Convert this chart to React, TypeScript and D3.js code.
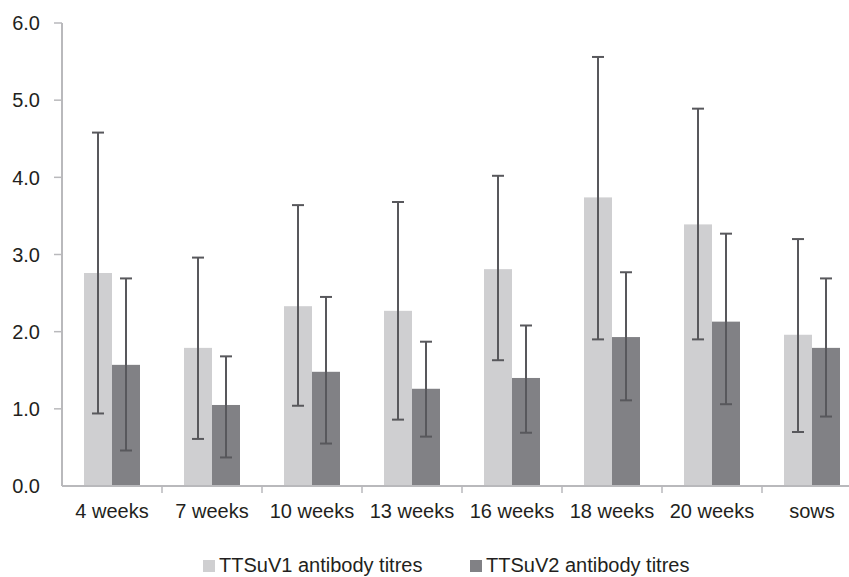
import React from "react";
import * as d3 from "d3";

const categories = ["4 weeks", "7 weeks", "10 weeks", "13 weeks", "16 weeks", "18 weeks", "20 weeks", "sows"];
const v1Mean = [2.76, 1.79, 2.33, 2.27, 2.81, 3.74, 3.39, 1.96];
const v1Low = [0.94, 0.61, 1.04, 0.86, 1.63, 1.9, 1.9, 0.7];
const v1High = [4.58, 2.96, 3.64, 3.68, 4.02, 5.56, 4.89, 3.2];
const v2Mean = [1.57, 1.05, 1.48, 1.26, 1.4, 1.93, 2.13, 1.79];
const v2Low = [0.46, 0.37, 0.55, 0.64, 0.69, 1.11, 1.06, 0.9];
const v2High = [2.69, 1.68, 2.45, 1.87, 2.08, 2.77, 3.27, 2.69];
const yTicks = [0, 1, 2, 3, 4, 5, 6];
const seriesNames = ["TTSuV1 antibody titres", "TTSuV2 antibody titres"];

const W = 849;
const H = 577;
const X0 = 62;
const X1 = 862;
const Y0 = 486;
const Y1 = 23;
const FONT = "'Liberation Sans', Arial, Helvetica, sans-serif";
const LIGHT = "#cfcfd1";
const DARK = "#818185";
const ERR = "#58585c";
const AXIS = "#b9b9bc";
const TEXT = "#231f20";

export default function App() {
  const x = d3.scaleBand<string>().domain(categories).range([X0, X1]).paddingInner(0).paddingOuter(0);
  const y = d3.scaleLinear().domain([0, 6]).range([Y0, Y1]);
  const bw = 28;
  const series = [
    { mean: v1Mean, low: v1Low, high: v1High, color: LIGHT, off: -bw },
    { mean: v2Mean, low: v2Low, high: v2High, color: DARK, off: 0 },
  ];
  const capHalf = 6;

  return (
    <svg
      width={W}
      height={H}
      style={{ position: "absolute", left: 0, top: 0, background: "#fff" }}
      fontFamily={FONT}
    >
      <rect x={0} y={0} width={W} height={H} fill="#fff" />
      {series.map((s, si) =>
        categories.map((c, i) => {
          const cx = (x(c) as number) + x.bandwidth() / 2;
          const bx = cx + s.off;
          return (
            <rect
              key={`${si}-${i}`}
              x={bx}
              y={y(s.mean[i])}
              width={bw}
              height={Y0 - y(s.mean[i])}
              fill={s.color}
            />
          );
        })
      )}
      {series.map((s, si) =>
        categories.map((c, i) => {
          const cx = (x(c) as number) + x.bandwidth() / 2;
          const ex = cx + s.off + bw / 2;
          return (
            <g key={`e${si}-${i}`} stroke={ERR} strokeWidth={2}>
              <line x1={ex} x2={ex} y1={y(s.low[i])} y2={y(s.high[i])} />
              <line x1={ex - capHalf} x2={ex + capHalf} y1={y(s.high[i])} y2={y(s.high[i])} />
              <line x1={ex - capHalf} x2={ex + capHalf} y1={y(s.low[i])} y2={y(s.low[i])} />
            </g>
          );
        })
      )}
      {/* y axis */}
      <line x1={X0} x2={X0} y1={Y1} y2={Y0} stroke={AXIS} strokeWidth={2} />
      {yTicks.map((t) => (
        <g key={t}>
          {t > 0 && <line x1={X0 - 8} x2={X0} y1={y(t)} y2={y(t)} stroke={AXIS} strokeWidth={1.5} />}
          <text x={40} y={y(t)} dy="0.36em" textAnchor="end" fontSize={20} fill={TEXT}>
            {d3.format(".1f")(t)}
          </text>
        </g>
      ))}
      {/* x axis */}
      <line x1={X0} x2={X1} y1={Y0} y2={Y0} stroke={AXIS} strokeWidth={2} />
      {categories.map((c, i) => (
        <g key={c}>
          {i > 0 && (
            <line x1={x(c) as number} x2={x(c) as number} y1={Y0} y2={Y0 + 7} stroke={AXIS} strokeWidth={1.5} />
          )}
          <text x={(x(c) as number) + x.bandwidth() / 2} y={518} textAnchor="middle" fontSize={20} fill={TEXT}>
            {c}
          </text>
        </g>
      ))}
      {/* legend */}
      {seriesNames.map((n, i) => {
        const lx = i === 0 ? 203 : 470;
        return (
          <g key={n}>
            <rect x={lx} y={560} width={12} height={12} fill={i === 0 ? LIGHT : DARK} />
            <text x={lx + 16} y={572} fontSize={20} fill={TEXT}>
              {n}
            </text>
          </g>
        );
      })}
    </svg>
  );
}
